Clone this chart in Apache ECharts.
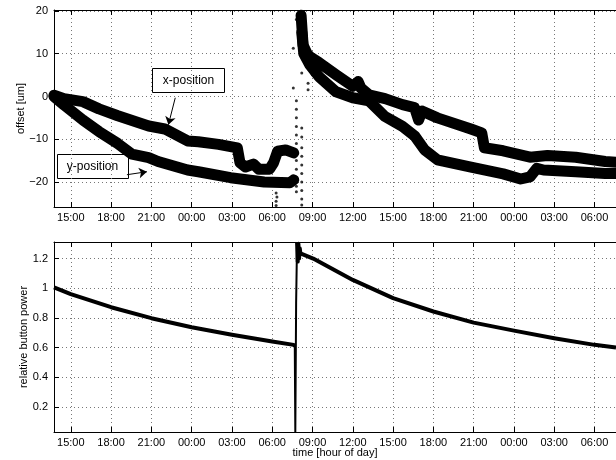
<!DOCTYPE html>
<html>
<head>
<meta charset="utf-8">
<script src="https://cdn.jsdelivr.net/npm/echarts@6/dist/echarts.min.js"></script>
<style>html,body{margin:0;padding:0;background:#fff}#c{width:616px;height:460px}</style>
</head>
<body>
<div id="c"></div>
<script>
// ---- tick values / labels (time in hours since 00:00 of day 1) ----
const xTickHours = [15, 18, 21, 24, 27, 30, 33, 36, 39, 42, 45, 48, 51, 54];
const xTickLabels = ['15:00','18:00','21:00','00:00','03:00','06:00','09:00','12:00','15:00','18:00','21:00','00:00','03:00','06:00'];
const offsetTicks = [-20, -10, 0, 10, 20];
const powerTicks = [0.2, 0.4, 0.6, 0.8, 1, 1.2];

// ---- top panel: offset [um] (band centres) ----
const xPosDay1 = [[13.75,0.3],[14.5,-0.5],[15.9,-1.2],[17.1,-2.9],[18.5,-4.5],[20.8,-6.9],[22.0,-7.6],[23.7,-10.4],[24.5,-10.6],[26.0,-11.2],[27.4,-12.0],[27.6,-15.5],[28.0,-16.5],[28.6,-15.8],[29.0,-17.0],[29.8,-17.0],[30.1,-15.5],[30.4,-12.8],[31.0,-12.5],[31.6,-13.2]];
const xPosDay2 = [[32.15,19.0],[32.3,12.0],[32.6,10.0],[32.8,9.3],[33.5,7.9],[34.75,5.1],[36.0,2.4],[36.4,3.5],[36.6,2.0],[37.2,0.4],[38.4,-0.5],[39.7,-1.9],[40.6,-2.6],[40.9,-5.5],[41.15,-3.4],[42.3,-5.0],[44.8,-7.6],[45.6,-8.5],[45.8,-12.0],[47.2,-12.7],[49.2,-14.2],[50.5,-13.8],[52.6,-14.2],[54.8,-15.2],[55.6,-15.4]];
const yPosDay1 = [[13.75,0.0],[14.5,-2.0],[15.9,-5.5],[17.1,-8.2],[18.5,-11.0],[19.55,-13.5],[20.8,-14.3],[21.5,-15.2],[23.7,-17.2],[24.5,-17.6],[26.9,-19.0],[29.4,-20.0],[31.3,-20.2],[31.6,-19.5]];
const yPosDay2 = [[32.2,15.0],[32.35,10.0],[32.8,7.4],[33.5,4.6],[34.75,1.1],[36.0,-0.3],[37.2,-1.0],[38.4,-4.7],[39.7,-7.0],[40.6,-9.2],[41.35,-12.5],[42.3,-14.8],[44.8,-16.5],[47.2,-18.1],[48.5,-19.3],[49.2,-18.8],[49.7,-16.8],[50.2,-17.2],[52.6,-17.6],[54.8,-18.0],[55.6,-18.0]];
const offsetOutliers = [[31.57,11.3],[31.57,2.0],[31.8,18.0],[31.8,-1],[31.8,-3],[31.8,-5],[31.8,-7],[31.8,-9],[31.8,-11],[31.8,-13],[31.8,-15],[31.8,-17],[31.8,-19],[31.8,-21],[31.8,-22.3],
  [32.2,5.5],[32.2,-7.4],[32.2,-9.5],[32.2,-12],[32.2,-14],[32.2,-16],[32.2,-18],[32.2,-20],[32.2,-22],[32.2,-24],[32.2,-25.4],
  [32.67,1.6],[32.67,3.1],[32.98,5.1],[30.29,-22.6],[30.29,-24.5],[30.29,-25.5],[30.35,-23.5]];

// ---- bottom panel: relative button power ----
const powerBefore = [[13.75,1.006],[15,0.96],[18,0.872],[21,0.798],[24,0.737],[27,0.686],[30,0.64],[31.6,0.618],[31.68,0.61]];
const powerSpike = [[31.68,0.61],[31.72,0.03],[31.78,0.9],[31.85,1.31]];
const powerAfter = [[31.85,1.31],[31.9,1.18],[31.95,1.3],[32.0,1.2],[32.05,1.27],[32.1,1.235],[33.05,1.2],[36,1.056],[39,0.933],[42,0.843],[45,0.768],[48,0.714],[51,0.663],[54,0.618],[55.6,0.6]];

// ---- annotations ----
const xArrow = [[22.78,-0.3],[22.27,-6.6]];
const yArrow = [[19.18,-18.3],[20.67,-17.6]];

const FONT = 'Liberation Sans, Arial, Helvetica, sans-serif';
const fmtNum = v => String(v).replace('-', '\u2212');

function xAxisCfg(gridIndex, showLabels, name) {
  return {
    type: 'value', gridIndex, min: 13.75, max: 55.6, position: 'bottom',
    axisLine: { show: true, onZero: false, lineStyle: { color: '#000', width: 1 } },
    axisTick: { show: true, inside: true, length: 5, customValues: xTickHours, lineStyle: { color: '#000' } },
    axisLabel: { show: showLabels, customValues: xTickHours, margin: 5, color: '#000', fontFamily: FONT, fontSize: 11,
      formatter: v => { const i = xTickHours.indexOf(Math.round(v * 100) / 100); return i >= 0 ? xTickLabels[i] : ''; } },
    splitLine: { show: true, lineStyle: { color: '#777', type: [1, 3], width: 1 } },
    name: name || '', nameLocation: 'middle', nameGap: 15, nameMoveOverlap: false,
    nameTextStyle: { color: '#000', fontFamily: FONT, fontSize: 11 }
  };
}
function xTopCfg(gridIndex) {
  return {
    type: 'value', gridIndex, min: 13.75, max: 55.6, position: 'top',
    axisLine: { show: true, onZero: false, lineStyle: { color: '#000', width: 1 } },
    axisTick: { show: true, inside: true, length: 5, customValues: xTickHours, lineStyle: { color: '#000' } },
    axisLabel: { show: false }, splitLine: { show: false }
  };
}
function yAxisCfg(gridIndex, min, max, ticks, name, gap) {
  return {
    type: 'value', gridIndex, min, max,
    axisLine: { show: true, onZero: false, lineStyle: { color: '#000', width: 1 } },
    axisTick: { show: true, inside: true, length: 5, customValues: ticks, lineStyle: { color: '#000' } },
    axisLabel: { customValues: ticks, margin: 6, color: '#000', fontFamily: FONT, fontSize: 11, formatter: fmtNum },
    splitLine: { show: true, lineStyle: { color: '#777', type: [1, 3], width: 1 } },
    name, nameLocation: 'middle', nameGap: gap, nameMoveOverlap: false,
    nameTextStyle: { color: '#000', fontFamily: FONT, fontSize: 11 }
  };
}

const band = (data, extra) => Object.assign({
  type: 'line', xAxisIndex: 0, yAxisIndex: 0, data, showSymbol: false, symbol: 'none',
  lineStyle: { color: '#000', width: 11, join: 'round', cap: 'round' }, z: 3, animation: false
}, extra || {});

const arrowLine = (pts) => ({
  silent: true, symbol: ['none', 'arrow'], symbolSize: 8, label: { show: false },
  lineStyle: { color: '#000', width: 1, type: 'solid' },
  data: [[{ coord: pts[0] }, { coord: pts[1] }]]
});

const chart = echarts.init(document.getElementById('c'), null, { renderer: 'canvas' });
chart.setOption({
  animation: false,
  backgroundColor: '#fff',
  grid: [
    { left: 54, top: 10, right: -8, height: 197 },
    { left: 54, top: 242, right: -8, height: 190 }
  ],
  xAxis: [xAxisCfg(0, true), xAxisCfg(1, true, 'time [hour of day]'), xTopCfg(0), xTopCfg(1)],
  yAxis: [
    yAxisCfg(0, -25.85, 20.23, offsetTicks, 'offset [um]', 28),
    yAxisCfg(1, 0.03, 1.312, powerTicks, 'relative button power', 25)
  ],
  series: [
    band(xPosDay1, { markLine: arrowLine(xArrow) }),
    band(xPosDay2),
    band(yPosDay1, { markLine: arrowLine(yArrow) }),
    band(yPosDay2),
    { type: 'scatter', xAxisIndex: 0, yAxisIndex: 0, data: offsetOutliers, symbolSize: 3, itemStyle: { color: '#000' }, z: 4 },
    { type: 'line', xAxisIndex: 1, yAxisIndex: 1, data: powerBefore, symbol: 'none', lineStyle: { color: '#000', width: 4, join: 'round' } },
    { type: 'line', xAxisIndex: 1, yAxisIndex: 1, data: powerSpike, symbol: 'none', lineStyle: { color: '#000', width: 2 } },
    { type: 'line', xAxisIndex: 1, yAxisIndex: 1, data: powerAfter, symbol: 'none', lineStyle: { color: '#000', width: 4, join: 'round' } }
  ],
  graphic: [
    { type: 'group', left: 152, top: 68, z: 100, children: [
      { type: 'rect', shape: { x: 0, y: 0, width: 72, height: 24 }, style: { fill: '#fff', stroke: '#000', lineWidth: 1 } },
      { type: 'text', style: { text: 'x-position', x: 36, y: 12, align: 'center', verticalAlign: 'middle', fontFamily: FONT, fontSize: 12, fill: '#000' } }
    ]},
    { type: 'group', left: 57, top: 154, z: 100, children: [
      { type: 'rect', shape: { x: 0, y: 0, width: 71, height: 24 }, style: { fill: '#fff', stroke: '#000', lineWidth: 1 } },
      { type: 'text', style: { text: 'y-position', x: 35, y: 12, align: 'center', verticalAlign: 'middle', fontFamily: FONT, fontSize: 12, fill: '#000' } }
    ]}
  ]
});
</script>
</body>
</html>
